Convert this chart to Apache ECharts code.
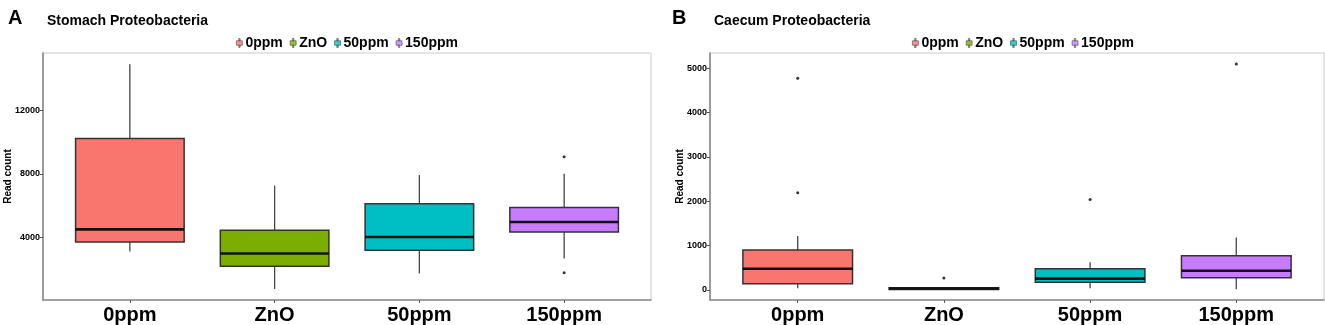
<!DOCTYPE html>
<html><head><meta charset="utf-8">
<script src="https://cdn.jsdelivr.net/npm/echarts@6/dist/echarts.min.js"></script>
<style>html,body{margin:0;padding:0;background:#fff}#c{width:1325px;height:325px}</style>
</head><body><div id="c"></div>
<script>
// ---- data ----
const categories = ['0ppm', 'ZnO', '50ppm', '150ppm'];
const colors = ['#F8766D', '#7CAE00', '#00BFC4', '#C77CFF'];
// [min, Q1, median, Q3, max]
const stomachBox = [
  [3100, 3707, 4503, 10241, 14930],
  [733, 2178, 2974, 4440, 7267],
  [1717, 3183, 4021, 6115, 7937],
  [2660, 4335, 4963, 5885, 8021]
];
const stomachOutliers = [[3, 9089], [3, 1759]];
const caecumBox = [
  [38, 143, 480, 900, 1216],
  [0, 12, 32, 52, 70],
  [38, 173, 255, 480, 623],
  [15, 278, 435, 773, 1186]
];
const caecumOutliers = [[0, 2191], [0, 4774], [1, 271], [2, 2041], [3, 5098]];
const stomachTicks = [4000, 8000, 12000];
const caecumTicks = [0, 1000, 2000, 3000, 4000, 5000];
const catIdx = [0, 1, 2, 3];

const FONT = 'Liberation Sans';
const chart = echarts.init(document.getElementById('c'));

function xAxis(gi) {
  return {
    gridIndex: gi, type: 'value', min: -0.6, max: 3.6,
    splitLine: { show: false },
    axisLine: { show: true, onZero: false, lineStyle: { color: '#8a8a8a', width: 1.6 } },
    axisTick: { show: true, length: 3, customValues: catIdx, lineStyle: { color: '#555' } },
    axisLabel: { customValues: catIdx, formatter: v => categories[Math.round(v)], fontFamily: FONT, fontWeight: 'bold', fontSize: 20, color: '#000', margin: 5 }
  };
}
function yAxis(gi, min, max, ticks, nameGap) {
  return {
    gridIndex: gi, type: 'value', min: min, max: max,
    name: 'Read count', nameLocation: 'middle', nameRotate: 90, nameGap: nameGap, nameMoveOverlap: false,
    nameTextStyle: { fontFamily: FONT, fontWeight: 'bold', fontSize: 10, color: '#000' },
    splitLine: { show: false },
    axisLine: { show: true, onZero: false, lineStyle: { color: '#8a8a8a', width: 1.6 } },
    axisTick: { show: true, length: 3, customValues: ticks, lineStyle: { color: '#555' } },
    axisLabel: { customValues: ticks, formatter: v => String(v), fontFamily: FONT, fontWeight: 'bold', fontSize: 9, color: '#000', margin: 3 }
  };
}
const legendIcon = 'path://M3,0h2v3h-2z M0,3h8v6h-8z M3,9h2v3h-2z';
function legend(left) {
  return {
    left: left, top: 31, itemWidth: 6, itemHeight: 11, itemGap: 7,
    icon: legendIcon, selectedMode: false,
    itemStyle: { borderColor: '#555', borderWidth: 0.8 },
    textStyle: { fontFamily: FONT, fontWeight: 'bold', fontSize: 14, color: '#000', padding: [0, 0, 0, -2] },
    data: categories
  };
}

function renderBox(params, api) {
  const i = api.value(0);
  const half = api.size([1, 0])[0] * 0.75 / 2;
  const pMin = api.coord([i, api.value(1)]);
  const pQ1 = api.coord([i, api.value(2)]);
  const pMed = api.coord([i, api.value(3)]);
  const pQ3 = api.coord([i, api.value(4)]);
  const pMax = api.coord([i, api.value(5)]);
  const x = pMed[0];
  const whisk = { stroke: '#444', lineWidth: 1.3 };
  return {
    type: 'group',
    children: [
      { type: 'line', shape: { x1: x, y1: pQ3[1], x2: x, y2: pMax[1] }, style: whisk },
      { type: 'line', shape: { x1: x, y1: pQ1[1], x2: x, y2: pMin[1] }, style: whisk },
      { type: 'rect', shape: { x: x - half, y: pQ3[1], width: half * 2, height: pQ1[1] - pQ3[1] },
        style: { fill: colors[i], stroke: '#333', lineWidth: 1.5 } },
      { type: 'line', shape: { x1: x - half, y1: pMed[1], x2: x + half, y2: pMed[1] }, style: { stroke: '#111', lineWidth: 2.6 } }
    ]
  };
}

const series = [];
[[stomachBox, stomachOutliers], [caecumBox, caecumOutliers]].forEach((p, gi) => {
  series.push({ type: 'custom', xAxisIndex: gi, yAxisIndex: gi, renderItem: renderBox,
    encode: { x: 0, y: [1, 2, 3, 4, 5] }, data: p[0].map((b, i) => [i].concat(b)), z: 2, silent: true });
  series.push({ type: 'scatter', xAxisIndex: gi, yAxisIndex: gi, symbolSize: 3, itemStyle: { color: '#000' }, data: p[1], z: 3, silent: true });
});
// legend-only series
categories.forEach((c, i) => series.push({ type: 'scatter', name: c, xAxisIndex: 0, yAxisIndex: 0, data: [], itemStyle: { color: colors[i] } }));

chart.setOption({
  animation: false,
  title: [
    { text: 'A', left: 3, top: 3, textStyle: { fontFamily: FONT, fontWeight: 'bold', fontSize: 20, color: '#000' } },
    { text: 'Stomach Proteobacteria', left: 42, top: 9, textStyle: { fontFamily: FONT, fontWeight: 'bold', fontSize: 14, color: '#000' } },
    { text: 'B', left: 667, top: 3, textStyle: { fontFamily: FONT, fontWeight: 'bold', fontSize: 20, color: '#000' } },
    { text: 'Caecum Proteobacteria', left: 709, top: 9, textStyle: { fontFamily: FONT, fontWeight: 'bold', fontSize: 14, color: '#000' } }
  ],
  legend: [legend(231), legend(907)],
  grid: [
    { left: 43, right: 674, top: 53, bottom: 25, show: true, borderColor: '#c8c8c8', borderWidth: 1 },
    { left: 710, right: 1, top: 53, bottom: 25, show: true, borderColor: '#c8c8c8', borderWidth: 1 }
  ],
  xAxis: [xAxis(0), xAxis(1)],
  yAxis: [yAxis(0, 38, 15646, stomachTicks, 30), yAxis(1, -226, 5345, caecumTicks, 25)],
  series: series
});
</script></body></html>
